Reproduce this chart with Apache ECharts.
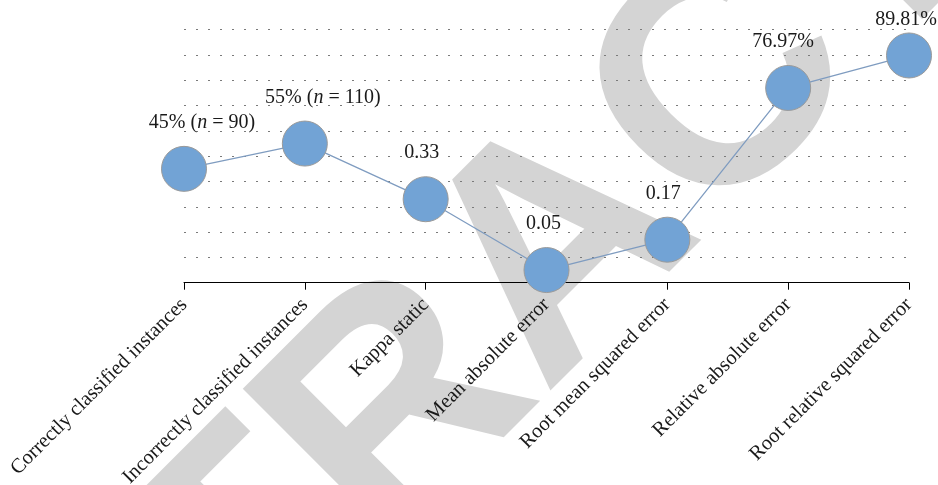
<!DOCTYPE html>
<html>
<head>
<meta charset="utf-8">
<script src="https://cdn.jsdelivr.net/npm/echarts@6/dist/echarts.min.js"></script>
<style>
  html, body { margin: 0; padding: 0; background: #fff; }
  #chart { width: 938px; height: 485px; }
</style>
</head>
<body>
<div id="chart"></div>
<script>
const categories = [
  'Correctly classified instances',
  'Incorrectly classified instances',
  'Kappa static',
  'Mean absolute error',
  'Root mean squared error',
  'Relative absolute error',
  'Root relative squared error'
]
// plotted height of each point (percent scale)
const plotValues = [45, 55, 33, 5, 17, 76.97, 89.81]
// text written above each point
const pointLabels = [
  '{r|45% (}{i|n}{r| = 90)}',
  '{r|55% (}{i|n}{r| = 110)}',
  '{r|0.33}',
  '{r|0.05}',
  '{r|0.17}',
  '{r|76.97%}',
  '{r|89.81%}'
]
const labelShift = [[18, 0], [18, 0], [-4, 0], [-3, 0], [-4, 0], [-5, 0], [-3, 10]]

const serif = '"Liberation Serif", "DejaVu Serif", serif'

const chart = echarts.init(document.getElementById('chart'))

chart.setOption({
  animation: false,
  backgroundColor: '#fff',
  graphic: [{
    type: 'text',
    x: 564,
    y: 253,
    rotation: 45 * Math.PI / 180,
    z: -10,
    silent: true,
    style: {
      text: 'RETRACTED',
      font: 'bold 318px "Liberation Sans", Arial, sans-serif',
      fill: '#d4d4d4',
      align: 'center',
      verticalAlign: 'middle'
    }
  }],
  grid: { left: 184, right: 29, top: 29.7, bottom: 202.3, outerBoundsMode: 'none' },
  xAxis: {
    type: 'category',
    data: categories,
    boundaryGap: false,
    axisLine: { lineStyle: { color: '#000', width: 1 } },
    axisTick: { show: true, length: 7, lineStyle: { color: '#000' } },
    axisLabel: {
      rotate: 45,
      margin: 19,
      interval: 0,
      fontFamily: serif,
      fontSize: 20.5,
      color: '#1a1a1a'
    },
    splitLine: { show: false }
  },
  yAxis: {
    type: 'value',
    min: 0,
    max: 100,
    interval: 10,
    axisLine: { show: false },
    axisTick: { show: false },
    axisLabel: { show: false },
    splitLine: {
      lineStyle: { color: '#7a7a7a', width: 1, type: [2, 10] }
    }
  },
  series: [{
    type: 'line',
    data: plotValues.map((v, i) => ({
      value: v,
      label: { formatter: pointLabels[i], offset: labelShift[i] }
    })),
    symbol: 'circle',
    symbolSize: 45,
    lineStyle: { color: '#7f9cc0', width: 1.3 },
    itemStyle: { color: '#72a3d5', borderColor: '#9a9a9a', borderWidth: 1 },
    label: {
      show: true,
      position: 'top',
      distance: 13,
      rich: {
        r: { fontFamily: serif, fontSize: 20, color: '#1a1a1a' },
        i: { fontFamily: serif, fontSize: 20, fontStyle: 'italic', color: '#1a1a1a' }
      }
    }
  }]
})
</script>
</body>
</html>
